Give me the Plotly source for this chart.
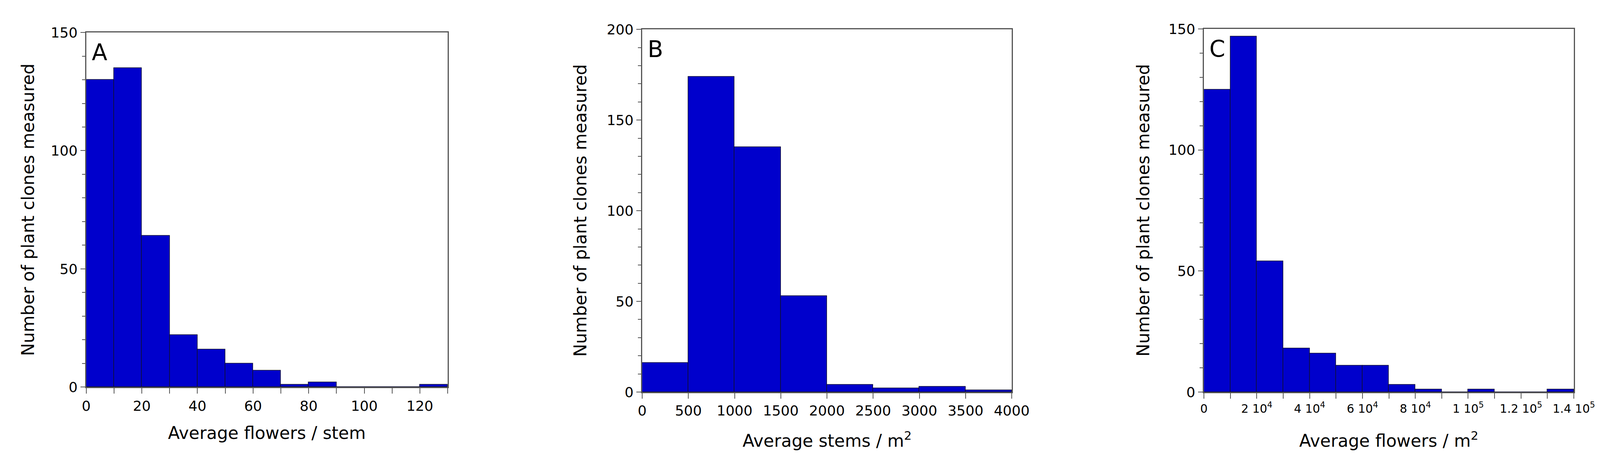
import plotly.graph_objects as go

W, H = 4139, 1182

# Panel A
a_edges_start = [0,10,20,30,40,50,60,70,80,90,100,110,120]
a_counts = [130,135,64,22,16,10,7,1,2,0,0,0,1]
# Panel B
b_edges_start = [0,500,1000,1500,2000,2500,3000,3500]
b_counts = [16,174,135,53,4,2,3,1]
# Panel C
c_edges_start = [0,1e4,2e4,3e4,4e4,5e4,6e4,7e4,8e4,9e4,1e5,1.1e5,1.2e5,1.3e5]
c_counts = [125,147,54,18,16,11,11,3,1,0,1,0,0,1]

c_tickvals = [0,2e4,4e4,6e4,8e4,1e5,1.2e5,1.4e5]
c_ticktext = ["0","2 10<sup>4</sup>","4 10<sup>4</sup>","6 10<sup>4</sup>","8 10<sup>4</sup>",
              "1 10<sup>5</sup>","1.2 10<sup>5</sup>","1.4 10<sup>5</sup>"]

FONT = "DejaVu Sans"
BLUE = "#0000CC"

panels = [
    dict(px=(205,1145), py=(57,997), starts=a_edges_start, counts=a_counts, w=10,
         xr=[0,130], yr=[0,150], xd=20, xminor=10, yd=50, yminor=10,
         xtitle="Average flowers / stem", letter="A", ytx=54, xty=1118),
    dict(px=(1651,2612), py=(49,1010), starts=b_edges_start, counts=b_counts, w=500,
         xr=[0,4000], yr=[0,200], xd=500, xminor=None, yd=50, yminor=10,
         xtitle="Average stems / m<sup>2</sup>", letter="B", ytx=1490, xty=1136),
    dict(px=(3112,4074), py=(48,1010), starts=c_edges_start, counts=c_counts, w=1e4,
         xr=[0,1.4e5], yr=[0,150], xd=None, xminor=1e4, yd=50, yminor=10,
         xtitle="Average flowers / m<sup>2</sup>", letter="C", ytx=2954, xty=1136),
]

fig = go.Figure()
layout = dict(width=W, height=H, margin=dict(l=0,r=0,t=0,b=0),
              plot_bgcolor="white", paper_bgcolor="white", showlegend=False,
              font=dict(family=FONT, size=36, color="black"), bargap=0)
annotations = []
for i, p in enumerate(panels):
    n = "" if i == 0 else str(i+1)
    xa, ya = "xaxis"+n, "yaxis"+n
    fig.add_trace(go.Bar(x=[s + p["w"]/2 for s in p["starts"]], y=p["counts"],
                         width=p["w"], marker=dict(color=BLUE, line=dict(color="#111133", width=1.5)),
                         xaxis="x"+n, yaxis="y"+n))
    xdom = [p["px"][0]/W, p["px"][1]/W]
    ydom = [1-p["py"][1]/H, 1-p["py"][0]/H]
    xaxis = dict(domain=xdom, range=p["xr"], showgrid=False, zeroline=False,
                 showline=True, linecolor="#555", linewidth=3, mirror=True,
                 ticks="outside", ticklen=14, tickwidth=2, tickcolor="#555",
                 anchor="y"+n, tickfont=dict(size=36))
    if p["letter"] == "C":
        xaxis.update(tickmode="array", tickvals=c_tickvals, ticktext=c_ticktext, tickfont=dict(size=30))
    else:
        xaxis.update(dtick=p["xd"], tick0=0)
    if p["xminor"]:
        xaxis["minor"] = dict(dtick=p["xminor"], tick0=0, ticks="outside", ticklen=14, tickwidth=2, tickcolor="#555")
    yaxis = dict(domain=ydom, range=p["yr"], dtick=p["yd"], showgrid=False, zeroline=False,
                 showline=True, linecolor="#555", linewidth=3, mirror=True,
                 ticks="outside", ticklen=12, tickwidth=2, tickcolor="#555",
                 anchor="x"+n, tickfont=dict(size=36),
                 minor=dict(dtick=p["yminor"], ticks="outside", ticklen=8, tickwidth=2, tickcolor="#555"))
    layout[xa] = xaxis
    layout[ya] = yaxis
    annotations.append(dict(text=p["xtitle"], xref="paper", yref="paper",
                            x=(xdom[0]+xdom[1])/2, y=1-p["xty"]/H, showarrow=False,
                            font=dict(size=44), xanchor="center", yanchor="middle"))
    annotations.append(dict(text="Number of plant clones measured", xref="paper", yref="paper",
                            x=p["ytx"]/W, y=(ydom[0]+ydom[1])/2, textangle=-90, showarrow=False,
                            font=dict(size=44), xanchor="center", yanchor="middle"))
    annotations.append(dict(text=p["letter"], xref="paper", yref="paper",
                            x=xdom[0]+12/W, y=ydom[1]-15/H, showarrow=False,
                            font=dict(size=58), xanchor="left", yanchor="top"))
layout["annotations"] = annotations
fig.update_layout(**layout)
fig.write_html("out.html")
